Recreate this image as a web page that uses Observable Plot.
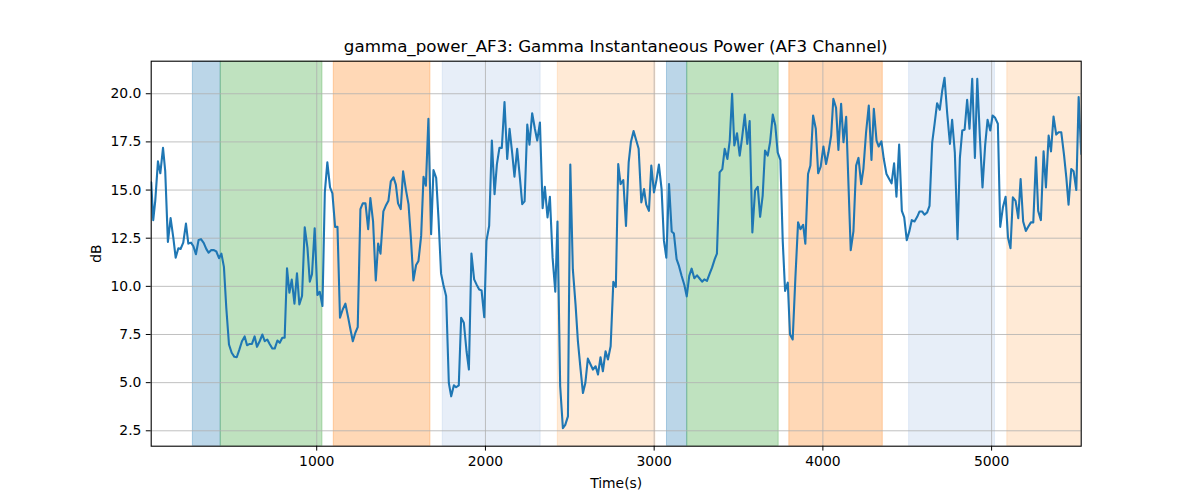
<!DOCTYPE html>
<html>
<head>
<meta charset="utf-8">
<script src="https://cdn.jsdelivr.net/npm/d3@7"></script>
<script src="https://cdn.jsdelivr.net/npm/@observablehq/plot@0.6"></script>
<style>
  html, body { margin: 0; padding: 0; background: #ffffff; }
  body { width: 1200px; height: 500px; overflow: hidden; font-family: "DejaVu Sans", sans-serif; }
  #title { box-sizing: border-box; height: 56px; padding-top: 38.3px; margin-left: 150.7px; width: 930px;
           text-align: center; font-size: 16.7px; line-height: 16.7px; color: #000; white-space: nowrap; }
</style>
</head>
<body>
<div id="title">gamma_power_AF3: Gamma Instantaneous Power (AF3 Channel)</div>
<div id="chart"></div>
<script>
// ---- data ----
const times = [19,31,43,59,73,89,102,118,134,150,164,180,193,209,225,239,255,269,284,300,314,330,346,359,375,391,405,421,435,450,464,480,496,512,526,541,557,573,587,603,616,632,646,662,678,692,707,
721,737,751,767,781,796,810,824,838,852,868,883,897,913,929,945,959,972,988,1004,1018,1034,1048,1063,1079,1093,1109,1123,1138,1154,1170,1186,1200,1214,1229,1243,1259,1273,1289,1305,1318,1334,1350,1364,1378,
1395,1409,1425,1439,1455,1469,1482,1498,1512,1528,1544,1558,1573,1589,1603,1619,1633,1647,1662,1678,1692,1708,1722,1737,1751,1767,1783,1797,1813,1826,1842,1856,1872,1888,1902,1917,1933,1947,1963,1977,1993,2006,2022,2038,2054,2068,
2083,2097,2113,2129,2143,2159,2172,2188,2204,2218,2232,2248,2261,2277,2293,2307,2323,2339,2352,2368,2382,2398,2414,2427,2443,2459,2473,2489,2503,2518,2534,2548,2564,2578,2592,2607,2623,2637,2653,2667,2682,2696,2712,2726,2742,2758,2773,
2787,2801,2817,2833,2849,2862,2878,2894,2908,2924,2940,2953,2969,2983,2999,3013,3028,3044,3058,3072,3088,3104,3117,3133,3147,3163,3179,3193,3208,3222,3238,3254,3268,3284,3297,3313,3329,3343,3359,3372,3388,3404,3418,3434,3448,3462,
3475,3491,3507,3521,3537,3552,3566,3582,3598,3614,3628,3643,3657,3673,3687,3703,3718,3732,3748,3762,3776,3792,3805,3821,3837,3853,3867,3883,3896,3912,3926,3942,3958,3972,3987,4003,4019,4033,4049,4062,4078,4092,4108,4122,4138,
4165,4181,4197,4211,4227,4240,4256,4272,4288,4302,4318,4331,4347,4361,4377,4393,4407,4422,4436,4452,4468,4482,4497,4513,4527,4543,4559,4573,4588,4602,4618,4632,4648,4662,4677,4693,4707,4721,4737,4753,4766,4782,4798,4812,4826,
4840,4855,4869,4885,4901,4915,4930,4946,4962,4976,4992,5006,5021,5037,5051,5067,5083,5097,5112,5126,5142,5158,5172,5187,5203,5217,5233,5247,5263,5276,5292,5308,5322,5338,5352,5367,5383,5397,5413,5429,5443,5456,5472,5486,5502,5516,5531];

const power = [15.4,13.44,14.44,16.49,15.87,17.19,16.0,12.31,13.54,12.53,11.49,11.98,11.94,12.27,13.26,12.22,12.27,12.08,11.67,12.41,12.45,12.26,11.93,11.75,11.89,11.88,11.81,11.46,11.70,11.01,8.89,6.98,6.55,6.34,6.32,6.70,7.15,7.40,6.94,7.01,7.01,7.40,6.86,7.15,7.50,7.15,7.24,
7.01,6.77,6.77,7.19,7.07,7.33,7.33,10.94,9.67,10.35,9.10,10.68,9.06,9.50,13.06,12.01,10.24,10.63,13.02,9.55,9.72,8.98,14.88,16.44,15.14,14.83,13.09,13.09,8.37,8.80,9.10,8.40,7.76,7.15,7.59,7.88,14.01,14.31,14.31,12.97,14.58,13.37,10.31,12.22,11.70,
13.89,14.18,14.44,15.45,15.66,15.28,14.31,14.01,15.97,15.05,14.27,12.53,10.31,11.11,11.32,12.62,15.69,15.23,18.70,12.71,16.04,15.63,13.49,10.66,10.07,9.50,4.98,4.29,4.86,4.76,4.86,8.37,8.11,6.63,5.68,11.70,10.36,10.10,9.84,9.79,8.40,12.36,13.14,17.57,14.79,16.35,
17.19,17.19,19.57,16.61,18.18,16.88,15.69,17.14,15.66,14.27,14.41,18.40,17.36,18.99,18.18,17.57,18.51,14.06,15.17,13.58,14.65,11.49,9.72,13.37,4.81,2.64,2.81,3.25,16.32,10.89,9.06,7.15,5.68,4.46,4.98,6.25,5.94,5.68,5.85,5.42,6.32,5.59,6.63,6.20,6.89,10.24,9.97,
16.35,15.31,15.52,13.14,16.44,17.48,18.06,17.57,17.14,14.36,15.05,14.24,13.92,16.27,14.88,15.49,16.32,15.05,12.36,11.49,15.31,12.85,12.74,11.41,11.06,10.54,10.07,9.48,10.54,10.92,10.42,10.57,10.42,10.24,10.36,10.28,10.66,10.97,11.41,11.70,15.92,16.09,17.14,16.61,17.57,20.0,
17.31,17.95,16.79,17.71,18.92,17.40,18.58,12.80,14.97,15.17,13.61,14.70,17.05,16.79,17.48,18.92,18.35,16.96,16.56,12.36,9.76,10.19,7.50,7.24,10.45,13.32,12.97,13.19,12.22,15.83,16.27,18.87,18.18,15.87,16.22,17.26,16.35,16.96,17.83,19.74,19.27,17.08,19.48,17.48,18.80,
11.88,12.85,16.27,16.67,15.31,16.09,18.00,19.39,16.56,19.22,17.57,17.26,17.53,16.61,15.83,15.57,15.35,16.39,14.65,17.36,13.92,13.58,12.40,12.88,13.44,13.37,13.61,13.89,13.89,13.72,13.84,14.18,17.48,18.44,19.51,19.17,20.14,20.83,18.96,17.40,18.65,16.96,12.45,16.67,18.09,
18.13,19.69,18.18,20.78,16.67,20.78,17.83,15.14,17.36,18.65,18.09,18.87,18.75,18.44,13.09,14.10,14.65,12.53,11.98,14.62,14.44,13.54,15.57,13.37,12.88,13.09,13.32,13.32,16.70,13.92,13.44,17.01,15.14,17.83,17.01,18.82,17.88,18.00,18.00,16.84,15.63,14.24,16.09,15.97,15.00,19.83,16.88];

// shaded segments: start, end, colour group
const spanStart = [266, 431, 1101, 1747, 2429, 3076, 3196, 3801, 4511, 5093];
const spanEnd   = [431, 1034, 1674, 2327, 3007, 3196, 3738, 4355, 5020, 5600];
const spanKind  = ["blue","green","orange","lightblue","lightorange","blue","green","orange","lightblue","lightorange"];

const xTicks = [1000, 2000, 3000, 4000, 5000];
const yTicks = [2.5, 5.0, 7.5, 10.0, 12.5, 15.0, 17.5, 20.0];
const xDomain = [19, 5531];
const yDomain = [1.70, 21.69];

// ---- build tables ----
const series = times.map((t, i) => ({t, v: power[i]}));
const spans = spanStart.map((s, i) => ({x1: s, x2: spanEnd[i], kind: spanKind[i]}));
const kindColor = {blue: "#1f77b4", green: "#2ca02c", orange: "#ff7f0e", lightblue: "#aec7e8", lightorange: "#ffbb78"};

const chart = Plot.plot({
  width: 1200,
  height: 444,
  marginTop: 4.7,
  marginBottom: 54.3,
  marginLeft: 150.7,
  marginRight: 119.3,
  style: {fontFamily: "DejaVu Sans, sans-serif", fontSize: "13.9px", color: "#000", background: "#fff"},
  x: {domain: xDomain, clamp: false},
  y: {domain: yDomain},
  marks: [
    Plot.rect(spans, {x1: "x1", x2: "x2", fill: d => kindColor[d.kind], fillOpacity: 0.3,
                      stroke: d => kindColor[d.kind], strokeOpacity: 0.3, strokeWidth: 1, clip: true}),
    Plot.gridX(xTicks, {stroke: "#b0b0b0", strokeOpacity: 1, strokeWidth: 0.8}),
    Plot.gridY(yTicks, {stroke: "#b0b0b0", strokeOpacity: 1, strokeWidth: 0.8}),
    Plot.line(series, {x: "t", y: "v", stroke: "#1f77b4", strokeWidth: 2.1, clip: true}),
    Plot.frame({stroke: "#000", strokeWidth: 1.1}),
    Plot.axisX(xTicks, {tickSize: 4.9, tickPadding: 4.9, tickFormat: d3.format("d"),
                        label: "Time(s)", labelAnchor: "center", labelArrow: "none", labelOffset: 42}),
    Plot.axisY(yTicks, {tickSize: 4.9, tickPadding: 4.9, tickFormat: d3.format(".1f"),
                        label: "dB", labelAnchor: "center", labelArrow: "none", labelOffset: 60})
  ]
});
document.getElementById("chart").appendChild(chart);
</script>
</body>
</html>
